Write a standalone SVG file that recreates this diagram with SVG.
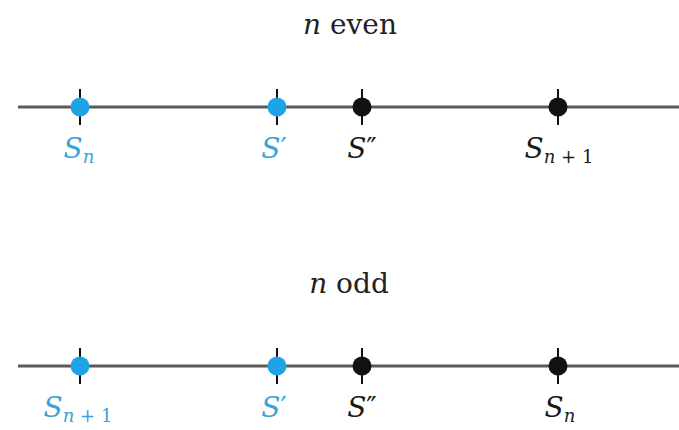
<svg xmlns="http://www.w3.org/2000/svg" width="679" height="430" viewBox="0 0 679 430">
<style>
.axis{stroke:#5a5a5a;stroke-width:3;fill:none}
.tick{stroke:#111;stroke-width:2}
.blue{fill:#1ea4e6}
.black{fill:#111}
text{font-family:'DejaVu Serif', serif;font-size:28px;text-anchor:middle}
.lb{fill:#3aa3d6}
.lk{fill:#1a1a1a}
.it{font-style:italic}
.sub{font-size:18px}
.title{fill:#222}
</style>
<rect width="679" height="430" fill="#fff"/>
<text class="title" x="350" y="34"><tspan class="it">n</tspan> even</text>
<text class="title" x="349" y="293"><tspan class="it">n</tspan> odd</text>
<g id="connectors">
<line class="axis" x1="18" y1="107" x2="679" y2="107"/>
<line class="axis" x1="18" y1="366" x2="679" y2="366"/>
</g>
<g id="even-Sn">
<line class="tick" x1="80" y1="89" x2="80" y2="125"/><circle class="blue" cx="80" cy="107" r="9.5"/>
<text class="lb" x="79" y="158"><tspan class="it">S</tspan><tspan class="it sub" dy="5">n</tspan></text>
</g>
<g id="even-Sp">
<line class="tick" x1="277" y1="89" x2="277" y2="125"/><circle class="blue" cx="277" cy="107" r="9.5"/>
<text class="lb" x="274" y="158"><tspan class="it">S</tspan>′</text>
</g>
<g id="even-Spp">
<line class="tick" x1="362" y1="89" x2="362" y2="125"/><circle class="black" cx="362" cy="107" r="9.5"/>
<text class="lk" x="362" y="158"><tspan class="it">S</tspan>″</text>
</g>
<g id="even-Sn1">
<line class="tick" x1="558" y1="89" x2="558" y2="125"/><circle class="black" cx="558" cy="107" r="9.5"/>
<text class="lk" x="559" y="158"><tspan class="it">S</tspan><tspan class="sub" dy="5"><tspan class="it">n</tspan> + 1</tspan></text>
</g>
<g id="odd-Sn1">
<line class="tick" x1="80" y1="348" x2="80" y2="384"/><circle class="blue" cx="80" cy="366" r="9.5"/>
<text class="lb" x="78" y="417"><tspan class="it">S</tspan><tspan class="sub" dy="5"><tspan class="it">n</tspan> + 1</tspan></text>
</g>
<g id="odd-Sp">
<line class="tick" x1="277" y1="348" x2="277" y2="384"/><circle class="blue" cx="277" cy="366" r="9.5"/>
<text class="lb" x="274" y="417"><tspan class="it">S</tspan>′</text>
</g>
<g id="odd-Spp">
<line class="tick" x1="362" y1="348" x2="362" y2="384"/><circle class="black" cx="362" cy="366" r="9.5"/>
<text class="lk" x="362" y="417"><tspan class="it">S</tspan>″</text>
</g>
<g id="odd-Sn">
<line class="tick" x1="558" y1="348" x2="558" y2="384"/><circle class="black" cx="558" cy="366" r="9.5"/>
<text class="lk" x="560" y="417"><tspan class="it">S</tspan><tspan class="it sub" dy="5">n</tspan></text>
</g>
</svg>
